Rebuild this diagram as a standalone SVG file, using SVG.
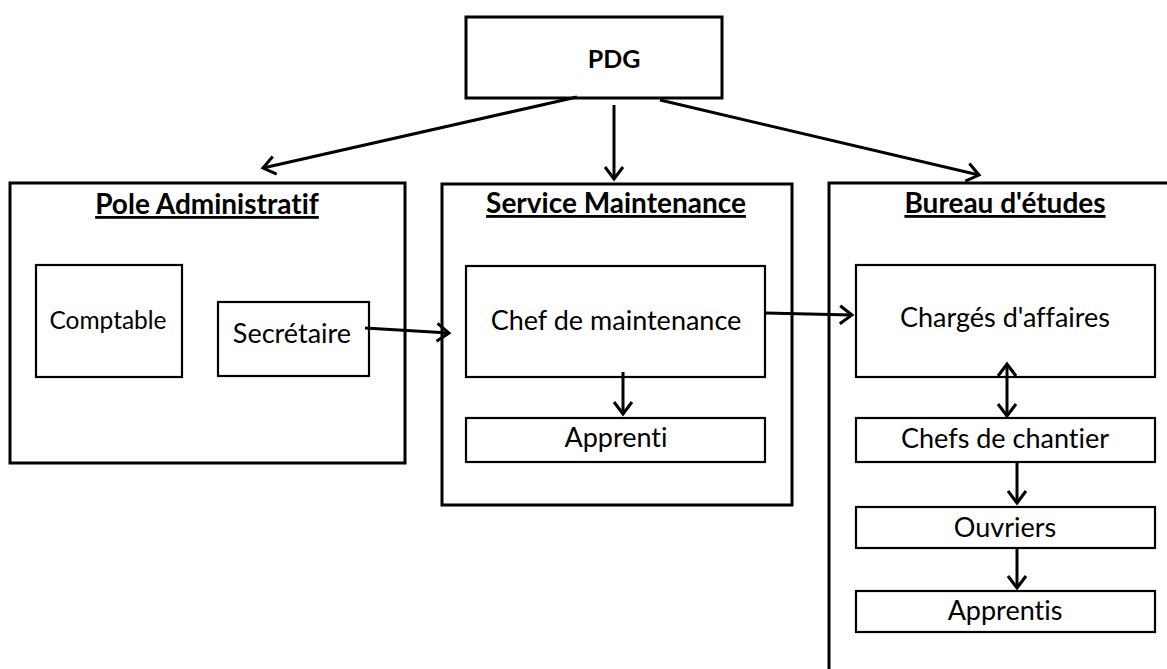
<svg xmlns="http://www.w3.org/2000/svg" width="1167" height="669" viewBox="0 0 1167 669">
<defs>
<marker id="ah" markerUnits="userSpaceOnUse" markerWidth="24" markerHeight="24" refX="14" refY="10" orient="auto-start-reverse" viewBox="0 0 24 20">
<path d="M2,1 L14,10 L2,19" fill="none" stroke="#000" stroke-width="3"/>
</marker>
<style>
.box{fill:#fff;stroke:#000;stroke-width:3}
.inner{fill:#fff;stroke:#000;stroke-width:2.2}
text{font-family:Lato,"Liberation Sans",sans-serif;font-variant-ligatures:none;text-anchor:middle}
.title{font-weight:bold;font-size:28px;text-decoration:underline}
.lbl{font-size:27px}
.conn{stroke:#000;stroke-width:3;fill:none;marker-end:url(#ah)}
</style>
</defs>
<rect width="1167" height="669" fill="#fff"/>
<g id="pdg">
<rect class="box" x="466" y="17" width="256" height="81"/>
<text x="614" y="68" font-weight="bold" font-size="25">PDG</text>
</g>
<g id="pole-administratif">
<rect class="box" x="10" y="183" width="395" height="280"/>
<text class="title" x="207" y="214">Pole Administratif</text>
</g>
<g id="comptable">
<rect class="inner" x="36" y="265" width="146" height="112"/>
<text class="lbl" x="108" y="329" style="font-size:24.5px">Comptable</text>
</g>
<g id="secretaire">
<rect class="inner" x="218" y="302" width="151" height="74"/>
<text class="lbl" x="292" y="343">Secrétaire</text>
</g>
<g id="service-maintenance">
<rect class="box" x="442" y="184" width="350" height="321"/>
<text class="title" x="616" y="213">Service Maintenance</text>
</g>
<g id="chef-maintenance">
<rect class="inner" x="466" y="266" width="299" height="111"/>
<text class="lbl" x="616" y="330">Chef de maintenance</text>
</g>
<g id="apprenti">
<rect class="inner" x="466" y="418" width="299" height="44"/>
<text class="lbl" x="616" y="447">Apprenti</text>
</g>
<g id="bureau-etudes">
<path d="M829,669 L829,183 L1167,183" fill="none" stroke="#000" stroke-width="3"/>
<text class="title" x="1005" y="213">Bureau d'études</text>
</g>
<g id="charges-affaires">
<rect class="inner" x="856" y="265" width="299" height="112"/>
<text class="lbl" x="1005" y="327">Chargés d'affaires</text>
</g>
<g id="chefs-chantier">
<rect class="inner" x="856" y="418" width="299" height="44"/>
<text class="lbl" x="1005" y="448">Chefs de chantier</text>
</g>
<g id="ouvriers">
<rect class="inner" x="856" y="507" width="299" height="41"/>
<text class="lbl" x="1005" y="537">Ouvriers</text>
</g>
<g id="apprentis">
<rect class="inner" x="856" y="591" width="299" height="41"/>
<text class="lbl" x="1005" y="620">Apprentis</text>
</g>
<g id="connectors">
<line class="conn" x1="577" y1="97" x2="263" y2="168"/>
<line class="conn" x1="614" y1="105" x2="614" y2="179"/>
<line class="conn" x1="660" y1="100" x2="979" y2="175"/>
<line class="conn" x1="365" y1="328" x2="449" y2="333"/>
<line class="conn" x1="765" y1="313" x2="852" y2="315"/>
<line class="conn" x1="623" y1="372" x2="623" y2="414"/>
<line class="conn" x1="1007" y1="364" x2="1007" y2="416" style="marker-start:url(#ah)"/>
<line class="conn" x1="1017" y1="463" x2="1017" y2="503"/>
<line class="conn" x1="1017" y1="548" x2="1017" y2="588"/>
</g>
</svg>
